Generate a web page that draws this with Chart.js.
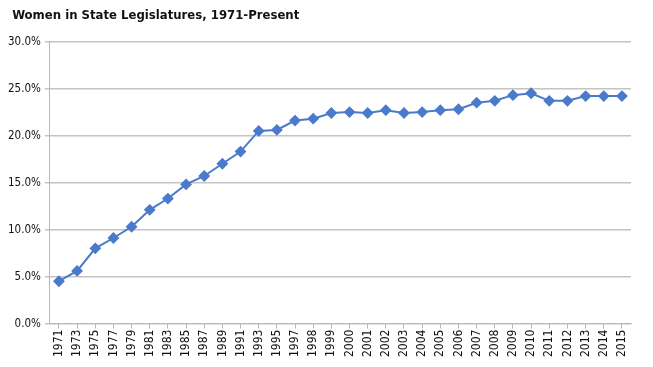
<!DOCTYPE html>
<html>
<head>
<meta charset="utf-8">
<script src="https://cdn.jsdelivr.net/npm/chart.js@4"></script>
<style>
  html, body { margin: 0; padding: 0; background: #fff; }
  #wrap { width: 653px; height: 367px; }
</style>
</head>
<body>
<div id="wrap"><canvas id="grafico" width="653" height="367"></canvas></div>
<script>
// Datos del gráfico
const anios = ['1971', '1973', '1975', '1977', '1979', '1981', '1983', '1985', '1987', '1989',
    '1991', '1993', '1995', '1997', '1998', '1999', '2000', '2001', '2002', '2003', '2004',
    '2005', '2006', '2007', '2008', '2009', '2010', '2011', '2012', '2013', '2014', '2015'];
const porcentajes = [4.5, 5.6, 8.0, 9.1, 10.3, 12.1, 13.3, 14.8, 15.7, 17.0,
    18.3, 20.5, 20.6, 21.6, 21.8, 22.4, 22.5, 22.4, 22.7, 22.4, 22.5,
    22.7, 22.8, 23.5, 23.7, 24.3, 24.5, 23.7, 23.7, 24.2, 24.2, 24.2];
const tituloTexto = 'Women in State Legislatures, 1971-Present';

const fuente = "'Liberation Sans Narrow', 'DejaVu Sans Condensed', 'Roboto', sans-serif";
const azul = '#4a7bcb';

new Chart(document.getElementById('grafico').getContext('2d'), {
    type: 'line',
    data: {
        labels: anios,
        datasets: [{
            data: porcentajes,
            borderColor: azul,
            backgroundColor: azul,
            borderWidth: 2,
            pointStyle: 'rectRot',
            pointRadius: 4.5,
            pointHoverRadius: 4.5,
            tension: 0
        }]
    },
    options: {
        responsive: false,
        animation: false,
        layout: { padding: { left: 4, right: 22, top: 8, bottom: 9 } },
        plugins: {
            legend: { display: false },
            tooltip: { enabled: false },
            title: {
                display: true,
                text: '  ' + tituloTexto, // un poco de sangría como en el original
                align: 'start',
                color: '#111',
                font: { family: fuente, size: 13, weight: 'bold' },
                padding: { top: 0, bottom: 18 }
            }
        },
        scales: {
            x: {
                offset: true,
                grid: { drawOnChartArea: false, drawTicks: true, tickLength: 5, color: '#b8b8b8' },
                border: { color: '#b8b8b8', width: 1 },
                ticks: {
                    autoSkip: false,
                    maxRotation: 90,
                    minRotation: 90,
                    color: '#111',
                    padding: 1,
                    font: { family: fuente, size: 12 }
                }
            },
            y: {
                min: 0,
                max: 30,
                ticks: {
                    stepSize: 5,
                    color: '#111',
                    padding: 4,
                    font: { family: fuente, size: 11.5 },
                    callback: v => v.toFixed(1) + '%'
                },
                grid: { color: '#c4c4c4', lineWidth: 1.5, tickLength: 5 },
                border: { color: '#b8b8b8', width: 1 }
            }
        }
    }
});
</script>
</body>
</html>
